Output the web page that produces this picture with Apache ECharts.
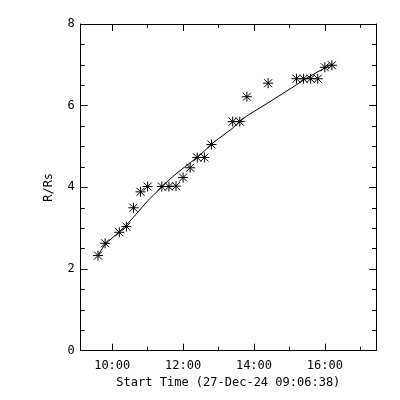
<!DOCTYPE html>
<html><head><meta charset="utf-8">
<script src="https://cdn.jsdelivr.net/npm/echarts@6/dist/echarts.min.js"></script>
<style>html,body{margin:0;padding:0;background:#fff}#c{width:400px;height:400px}</style>
</head><body><div id="c"></div>
<script>
const startTime = '09:06:38';
const endTime = '17:26:38';
const times = ['09:36','09:48','10:12','10:24','10:36','10:48','11:00','11:24','11:36','11:48','12:00','12:12','12:24','12:36','12:48','13:24','13:36','13:48','14:24','15:12','15:24','15:36','15:48','16:00','16:12'];
const heights = [2.33,2.63,2.90,3.04,3.50,3.89,4.02,4.02,4.02,4.03,4.24,4.48,4.73,4.73,5.05,5.61,5.61,6.22,6.55,6.66,6.66,6.66,6.66,6.94,6.99];
const fitHeights = [2.34,2.61,2.91,3.08,3.27,3.47,3.67,4.01,4.18,4.33,4.47,4.60,4.74,4.89,5.06,5.45,5.62,5.75,6.07,6.51,6.63,6.73,6.83,6.92,7.02];
const majorTimeTicks = ['10:00','12:00','14:00','16:00'];
const minorTimeTicks = ['11:00','13:00','15:00','17:00'];
const yMin = 0, yMax = 8, yStep = 2;
const xTitle = 'Start Time (27-Dec-24 09:06:38)';
const yTitle = 'R/Rs';

function toHours(s){const p=s.split(':').map(Number);return p[0]+p[1]/60+(p[2]||0)/3600;}
function fmt(h){const m=Math.round(h*60);const hh=Math.floor(m/60),mm=m%60;return String(hh).padStart(2,'0')+':'+String(mm).padStart(2,'0');}
const xMin = toHours(startTime), xMax = toHours(endTime);
const majors = majorTimeTicks.map(toHours), minors = minorTimeTicks.map(toHours);
const pts = times.map((t,i)=>[toHours(t),heights[i]]);
const fit = times.map((t,i)=>[toHours(t),fitHeights[i]]);
const FONT = 'DejaVu Sans Mono';
const black = {color:'#000',width:1};
function xAx(pos, ticks, len, labels, extra){
  return Object.assign({type:'value',position:pos,min:xMin,max:xMax,
    axisLine:{show:true,onZero:false,lineStyle:black},
    axisTick:{show:true,inside:true,length:len,customValues:ticks,lineStyle:black},
    axisLabel:labels?{show:true,customValues:ticks,formatter:v=>fmt(v),color:'#000',fontFamily:FONT,fontSize:12,margin:9}:{show:false},
    splitLine:{show:false}},extra||{});
}
function yAx(pos, labels, extra){
  return Object.assign({type:'value',position:pos,min:yMin,max:yMax,interval:yStep,
    axisLine:{show:true,onZero:false,lineStyle:black},
    axisTick:{show:true,inside:true,length:7,lineStyle:black},
    minorTick:{show:true,splitNumber:4,length:4,lineStyle:black},
    axisLabel:labels?{show:true,color:'#000',fontFamily:FONT,fontSize:12,margin:6}:{show:false},
    splitLine:{show:false},minorSplitLine:{show:false}},extra||{});
}
const chart = echarts.init(document.getElementById('c'),null,{renderer:'canvas'});
chart.setOption({
  backgroundColor:'#fff',
  animation:false,
  grid:{left:80.7,right:24,top:24,bottom:49.3,containLabel:false},
  xAxis:[
    xAx('bottom',majors,7,true,{name:xTitle,nameLocation:'middle',nameGap:16,nameTextStyle:{color:'#000',fontFamily:FONT,fontSize:12}}),
    xAx('bottom',minors,4,false),
    xAx('top',majors,7,false),
    xAx('top',minors,4,false)
  ],
  yAxis:[
    yAx('left',true,{name:yTitle,nameLocation:'middle',nameGap:26,nameTextStyle:{color:'#000',fontFamily:FONT,fontSize:12}}),
    yAx('right',false)
  ],
  series:[
    {type:'line',data:fit,showSymbol:false,symbol:'none',lineStyle:{color:'#000',width:1},xAxisIndex:0,yAxisIndex:0,z:2},
    {type:'scatter',data:pts,symbol:'path://M0,5L10,5M5,0L5,10M1,1L9,9M9,1L1,9',symbolSize:10,
     itemStyle:{color:'#000',borderColor:'#000',borderWidth:1,opacity:1},xAxisIndex:0,yAxisIndex:0,z:3}
  ]
});
</script></body></html>
